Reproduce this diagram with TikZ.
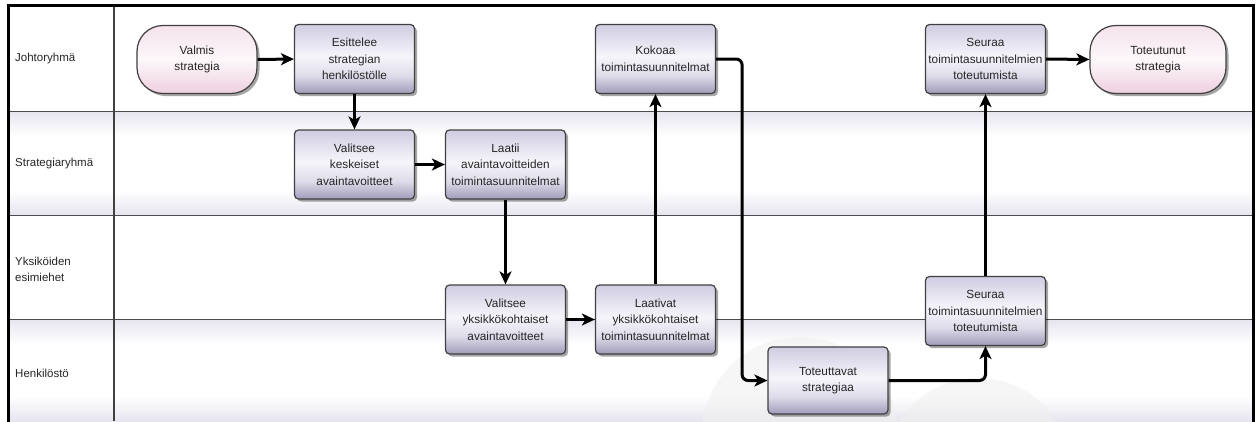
\documentclass[tikz,border=0pt]{standalone}
\usepackage{fontspec}
\setmainfont{Liberation Sans}
\usetikzlibrary{arrows.meta,shadows}

% process boxes: lavender, light band just above the middle
\definecolor{ptop}{HTML}{D0CCE2}
\definecolor{plight}{HTML}{F6F5FA}
\definecolor{pmid}{HTML}{DFDCEA}
\definecolor{pbot}{HTML}{A19BBA}
% start / end terminals: pale pink
\definecolor{ttop}{HTML}{F5E2EC}
\definecolor{tlight}{HTML}{FCF8FA}
\definecolor{tbot}{HTML}{EFCFDF}
% swim lane tint
\definecolor{lanetint}{HTML}{E6E5EF}

\pgfdeclareverticalshading{procshade}{100bp}{color(0bp)=(pbot); color(25bp)=(pbot);
  color(38bp)=(pmid); color(52bp)=(plight); color(75bp)=(ptop); color(100bp)=(ptop)}
\pgfdeclareverticalshading{termshade}{100bp}{color(0bp)=(tbot); color(25bp)=(tbot);
  color(50bp)=(tlight); color(75bp)=(ttop); color(100bp)=(ttop)}
\pgfdeclareverticalshading{laneshade}{100bp}{color(0bp)=(lanetint); color(25bp)=(lanetint);
  color(37bp)=(white); color(63bp)=(white); color(75bp)=(lanetint); color(100bp)=(lanetint)}

\tikzset{
  boxfont/.style={font=\fontsize{11.8}{16.5}\selectfont, text=black!85, align=center},
  proc/.style={boxfont, shading=procshade, draw=black!75, line width=1.2pt,
    rounded corners=4pt, minimum width=120pt, minimum height=69pt, inner sep=0pt,
    drop shadow={shadow xshift=2.5pt, shadow yshift=-2.5pt, fill=black, opacity=0.35}},
  term/.style={boxfont, shading=termshade, draw=black!75, line width=1.2pt,
    rounded corners=26pt, minimum width=120pt, minimum height=68pt, inner sep=0pt,
    drop shadow={shadow xshift=2.5pt, shadow yshift=-2.5pt, fill=black, opacity=0.35}},
  lanelabel/.style={font=\fontsize{11.5}{16}\selectfont, text=black!85, align=left,
    anchor=west, inner sep=0pt},
  laneline/.style={draw=black!70, line width=1pt},
  flow/.style={line width=3pt, draw=black, rounded corners=6pt,
    -{Stealth[length=13pt, width=12pt, inset=3.5pt]}},
}

\begin{document}
\begin{tikzpicture}[x=1pt, y=-1pt]
\useasboundingbox (0,0) rectangle (1259,421);
\fill[white] (0,0) rectangle (1259,421);

% tinted lanes
\shade[shading=laneshade] (8,111) rectangle (1253,215);
\shade[shading=laneshade] (8,319) rectangle (1253,421);

% faint circles in the bottom lane
\begin{scope}
  \clip (114,319) rectangle (1253,421);
  \fill[black!6, opacity=0.6] (800,435) circle (98);
  \fill[black!6, opacity=0.6] (978,471) circle (93);
\end{scope}

% lane separators and label column
\draw[laneline] (8,111) -- (1253,111);
\draw[laneline] (8,215) -- (1253,215);
\draw[laneline] (8,319) -- (1253,319);
\draw[draw=black!75, line width=1.3pt] (114,5) -- (114,421);

% outer frame
\draw[line width=3pt, line cap=rect] (8,421) -- (8,5) -- (1253,5) -- (1253,421);

% lane names
\node[lanelabel] (l1) at (15,59) {Johtoryhmä};
\node[lanelabel] (l2) at (15,164) {Strategiaryhmä};
\node[lanelabel] (l3) at (15,269) {Yksiköiden\\esimiehet};
\node[lanelabel] (l4) at (15,373) {Henkilöstö};

% steps
\node[term] (valmis) at (197,59.5) {Valmis\\strategia};
\node[proc] (esit) at (354.5,59) {Esittelee\\strategian\\henkilöstölle};
\node[proc] (valk) at (354.5,164.5) {Valitsee\\keskeiset\\avaintavoitteet};
\node[proc] (laatii) at (505.5,164.5) {Laatii\\avaintavoitteiden\\toimintasuunnitelmat};
\node[proc] (kokoaa) at (655.5,59) {Kokoaa\\toimintasuunnitelmat};
\node[proc] (valy) at (505.5,319.5) {Valitsee\\yksikkökohtaiset\\avaintavoitteet};
\node[proc] (laativat) at (655.5,319.5) {Laativat\\yksikkökohtaiset\\toimintasuunnitelmat};
\node[proc, minimum height=67pt] (toteut) at (828,380.5) {Toteuttavat\\strategiaa};
\node[proc] (seur2) at (985.5,311) {Seuraa\\toimintasuunnitelmien\\toteutumista};
\node[proc] (seur1) at (985.5,59) {Seuraa\\toimintasuunnitelmien\\toteutumista};
\node[term, minimum width=136pt] (tot) at (1158,59.5) {Toteutunut\\strategia};

% flow
\draw[flow] (valmis.east) -- (esit.west);
\draw[flow] (esit.south) -- (valk.north);
\draw[flow] (valk.east) -- (laatii.west);
\draw[flow] (laatii.south) -- (valy.north);
\draw[flow] (valy.east) -- (laativat.west);
\draw[flow] (laativat.north) -- (kokoaa.south);
\draw[flow] (kokoaa.east) -- ++(26,0) |- (toteut.west);
\draw[flow] (toteut.east) -| (seur2.south);
\draw[flow] (seur2.north) -- (seur1.south);
\draw[flow] (seur1.east) -- (tot.west);
\end{tikzpicture}
\end{document}
